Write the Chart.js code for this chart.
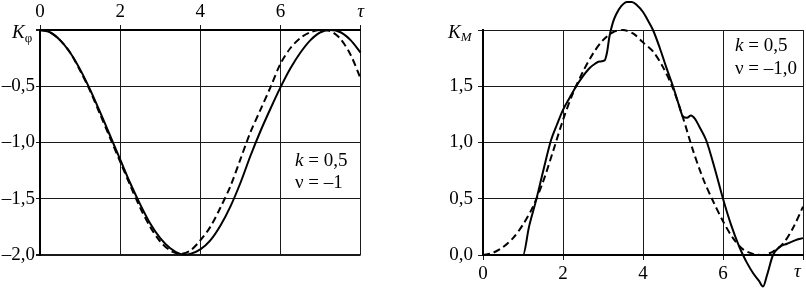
<!DOCTYPE html>
<html>
<head>
<meta charset="utf-8">
<script src="https://cdn.jsdelivr.net/npm/chart.js@4.4.1/dist/chart.umd.min.js"></script>
<style>
html, body { margin: 0; padding: 0; background: #fff; width: 806px; height: 289px; overflow: hidden; }
canvas { position: absolute; top: 0; }
#left { left: 0; }
#right { left: 420px; }
</style>
</head>
<body>
<canvas id="left" width="366" height="289"></canvas>
<canvas id="right" width="386" height="289"></canvas>
<script>
// tau sampling used by the smooth curves
const tau = [0, 0.25, 0.5, 0.75, 1, 1.25, 1.5, 1.75, 2, 2.25, 2.5, 2.75, 3, 3.25, 3.5, 3.75,
  4, 4.25, 4.5, 4.75, 5, 5.25, 5.5, 5.75, 6, 6.25, 6.5, 6.75, 7, 7.25, 7.5, 7.75, 8];

// left chart: K_phi
const kPhiSolid = [0, -0.02, -0.09, -0.2, -0.35, -0.53, -0.73, -0.94, -1.15, -1.36, -1.55, -1.72, -1.85, -1.94, -1.99, -1.99,
  -1.95, -1.87, -1.74, -1.57, -1.36, -1.12, -0.9, -0.7, -0.51, -0.34, -0.2, -0.09, -0.02, 0, -0.02, -0.09, -0.2];
const kPhiDashed = [0, -0.02, -0.09, -0.2, -0.36, -0.54, -0.75, -0.96, -1.17, -1.38, -1.58, -1.75, -1.88, -1.96, -1.99, -1.96,
  -1.87, -1.75, -1.58, -1.39, -1.15, -0.91, -0.71, -0.51, -0.3, -0.16, -0.07, -0.02, 0, -0.01, -0.08, -0.22, -0.43];

// right chart: K_M
const kMDashed = [0, 0.02, 0.07, 0.15, 0.27, 0.43, 0.65, 0.92, 1.2, 1.44, 1.63, 1.79, 1.91, 1.98, 2.0, 1.97,
  1.89, 1.81, 1.67, 1.48, 1.22, 0.93, 0.68, 0.48, 0.3, 0.15, 0.05, 0.01, 0, 0.03, 0.1, 0.24, 0.43];
const kMSolidTau = [0, 0.5, 1.0, 1.15, 1.33, 1.5, 1.7, 1.85, 2.0, 2.17, 2.33, 2.5, 2.66, 2.8, 2.91, 3.04, 3.1, 3.16, 3.25, 3.33,
  3.45, 3.6, 3.72, 3.85, 4.0, 4.1, 4.25, 4.42, 4.58, 4.75, 4.9, 5.0, 5.1, 5.2, 5.3, 5.41, 5.58, 5.8, 6.0, 6.2, 6.41,
  6.5, 6.6, 6.75, 6.9, 7.0, 7.1, 7.25, 7.41, 7.6, 7.8, 8.0];
const kMSolid = [0, 0, 0, 0.25, 0.49, 0.74, 1.02, 1.16, 1.29, 1.4, 1.5, 1.59, 1.66, 1.7, 1.72, 1.73, 1.8, 1.94, 2.07, 2.14,
  2.21, 2.25, 2.25, 2.22, 2.16, 2.1, 2.0, 1.84, 1.67, 1.5, 1.33, 1.23, 1.22, 1.24, 1.21, 1.14, 1.02, 0.76, 0.5, 0.27, 0.07,
  0, -0.07, -0.16, -0.23, -0.28, -0.18, 0, 0.07, 0.1, 0.13, 0.15];

const tauTicks = [0, 2, 4, 6, 8];
const phiTicks = [0, -0.5, -1, -1.5, -2];
const mTicks = [0, 0.5, 1, 1.5, 2];

const FAMILY = '"Liberation Serif", "Times New Roman", serif';
const GRID = '#1a1a1a';

const pts = (xs, ys) => xs.map((x, i) => ({ x: x, y: ys[i] }));
const fmt = v => (v < 0 ? '–' : '') + Math.abs(v).toFixed(1).replace('.', ',');

function drawParts(ctx, parts, x, y) {
  parts.forEach(p => {
    ctx.font = (p[1] ? 'italic ' : '') + (p[2] || 19) + 'px ' + FAMILY;
    ctx.fillText(p[0], x, y + (p[3] || 0));
    x += ctx.measureText(p[0]).width;
  });
}

const lineSet = (data, dashed) => ({
  data: data,
  borderColor: '#000',
  borderWidth: 2,
  borderDash: dashed ? [7, 4] : [],
  pointRadius: 0,
  fill: false,
  tension: 0.3,
  clip: false
});

const textLeft = {
  id: 'textLeft',
  afterDraw(chart) {
    const ctx = chart.ctx;
    ctx.save();
    ctx.fillStyle = '#000';
    ctx.textBaseline = 'alphabetic';
    drawParts(ctx, [['K', true], ['φ', false, 13, 4]], 12, 38);
    drawParts(ctx, [['k', true], [' = 0,5', false]], 295, 166);
    drawParts(ctx, [['ν = –1', false]], 295, 188);
    ctx.restore();
  }
};

const textRight = {
  id: 'textRight',
  afterDraw(chart) {
    const ctx = chart.ctx;
    ctx.save();
    ctx.fillStyle = '#000';
    ctx.textBaseline = 'alphabetic';
    drawParts(ctx, [['K', true], ['M', true, 13, 3]], 28, 38);
    drawParts(ctx, [['k', true], [' = 0,5', false]], 315, 51);
    drawParts(ctx, [['ν = –1,0', false]], 315, 74);
    drawParts(ctx, [['τ', true]], 374, 277);
    ctx.restore();
  }
};

const tickFont = c => ({ family: FAMILY, size: 19, style: (c.tick && c.tick.value === 8) ? 'italic' : 'normal' });

new Chart(document.getElementById('left'), {
  type: 'line',
  data: {
    datasets: [lineSet(pts(tau, kPhiSolid), false), lineSet(pts(tau, kPhiDashed), true)]
  },
  options: {
    responsive: false,
    animation: false,
    layout: { padding: { top: 0, right: 5, bottom: 34, left: 0 } },
    plugins: { legend: { display: false }, tooltip: { enabled: false } },
    scales: {
      x: {
        type: 'linear', position: 'top', min: 0, max: 8,
        afterBuildTicks: s => { s.ticks = tauTicks.map(v => ({ value: v })); },
        afterFit: s => { s.height = 30; },
        ticks: {
          autoSkip: false, maxRotation: 0, padding: 2, color: '#000', font: tickFont,
          callback: v => v === 8 ? 'τ' : String(v)
        },
        grid: { color: GRID, lineWidth: 1, tickLength: 5 },
        border: { color: '#000', width: 2 }
      },
      y: {
        min: -2, max: 0,
        afterBuildTicks: s => { s.ticks = phiTicks.map(v => ({ value: v })); },
        afterFit: s => { s.width = 40; },
        ticks: {
          padding: 1, color: '#000', font: { family: FAMILY, size: 19 },
          callback: v => v === 0 ? '' : fmt(v)
        },
        grid: { color: GRID, lineWidth: c => (c.tick && (c.tick.value === 0 || c.tick.value === -2)) ? 2 : 1, tickLength: 4 },
        border: { color: '#000', width: 2 }
      }
    }
  },
  plugins: [textLeft]
});

new Chart(document.getElementById('right'), {
  type: 'line',
  data: {
    datasets: [
      Object.assign(lineSet(pts(kMSolidTau, kMSolid), false), { cubicInterpolationMode: 'monotone' }),
      lineSet(pts(tau, kMDashed), true)
    ]
  },
  options: {
    responsive: false,
    animation: false,
    layout: { padding: { top: 30, right: 3, bottom: 0, left: 0 } },
    plugins: { legend: { display: false }, tooltip: { enabled: false } },
    scales: {
      x: {
        type: 'linear', position: 'bottom', min: 0, max: 8,
        afterBuildTicks: s => { s.ticks = tauTicks.map(v => ({ value: v })); },
        afterFit: s => { s.height = 34; },
        ticks: {
          autoSkip: false, maxRotation: 0, padding: 3, color: '#000', font: tickFont,
          callback: v => v === 8 ? '' : String(v)
        },
        grid: { color: GRID, lineWidth: 1, tickLength: 5 },
        border: { color: '#000', width: 2 }
      },
      y: {
        min: 0, max: 2,
        afterBuildTicks: s => { s.ticks = mTicks.map(v => ({ value: v })); },
        afterFit: s => { s.width = 63; },
        ticks: {
          padding: 5, color: '#000', font: { family: FAMILY, size: 19 },
          callback: v => v === 2 ? '' : fmt(v)
        },
        grid: { color: GRID, lineWidth: 1, tickLength: 5 },
        border: { color: '#000', width: 2 }
      }
    }
  },
  plugins: [textRight]
});
</script>
</body>
</html>
